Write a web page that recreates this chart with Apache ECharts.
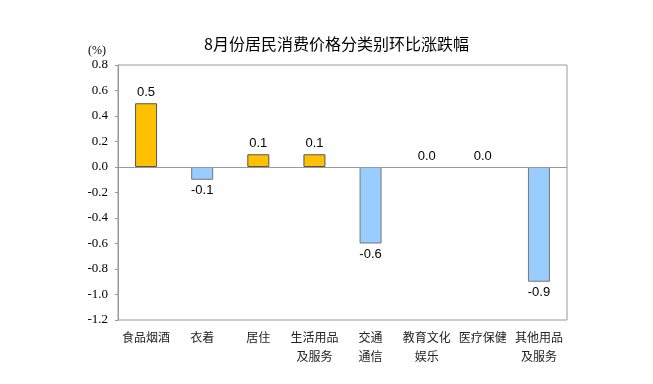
<!DOCTYPE html>
<html><head><meta charset="utf-8">
<script src="https://cdn.jsdelivr.net/npm/echarts@6/dist/echarts.min.js"></script>
<style>html,body{margin:0;padding:0;background:#fff}#c{width:653px;height:384px}</style>
</head><body><div id="c"></div>
<script>
const categories = ['食品烟酒','衣着','居住','生活用品\n及服务','交通\n通信','教育文化\n娱乐','医疗保健','其他用品\n及服务'];
const values = [0.5, -0.1, 0.1, 0.1, -0.6, 0.0, 0.0, -0.9];
const yTicks = {min: -1.2, max: 0.8, interval: 0.2};
const titleText = '8月份居民消费价格分类别环比涨跌幅';
const unitText = '(%)';

const serif = '"Liberation Serif", "Times New Roman", serif';
const chart = echarts.init(document.getElementById('c'));
chart.setOption({
  animation: false,
  title: {text: titleText, left: 199, top: 31, textStyle: {fontFamily: 'Noto Sans CJK SC', fontSize: 16, fontWeight: 'normal', color: '#000'}},
  graphic: [{type: 'text', left: 88, top: 45, style: {text: unitText, fontFamily: serif, fontSize: 12, fill: '#000'}}],
  grid: {left: 118, right: 86, top: 65, bottom: 64, show: true, borderColor: '#999', borderWidth: 1},
  xAxis: {
    type: 'category', data: categories,
    axisLine: {show: false}, axisTick: {show: false},
    axisLabel: {interval: 0, margin: 8, fontFamily: 'Noto Sans CJK SC', fontSize: 12, color: '#222', lineHeight: 19}
  },
  yAxis: {
    type: 'value', min: yTicks.min, max: yTicks.max, interval: yTicks.interval,
    axisLine: {show: true, lineStyle: {color: '#999'}},
    axisTick: {show: true, length: 3, lineStyle: {color: '#999'}},
    splitLine: {show: false},
    axisLabel: {margin: 10, fontFamily: serif, fontSize: 13, color: '#000', formatter: v => v.toFixed(1)}
  },
  series: [{
    type: 'bar', barWidth: 22,
    data: values.map(v => ({
      value: v,
      itemStyle: v > 0 ? {color: '#FFC000', borderColor: '#555', borderWidth: 1}
        : v < 0 ? {color: '#99CCFF', borderColor: '#777', borderWidth: 1}
        : {color: 'rgba(0,0,0,0)', borderWidth: 0},
      label: {position: v < 0 ? 'bottom' : 'top'}
    })),
    label: {show: true, distance: 4, fontFamily: 'Liberation Sans', fontSize: 13, color: '#000', formatter: p => p.value.toFixed(1)},
    markLine: {silent: true, symbol: 'none', label: {show: false}, lineStyle: {color: '#999', type: 'solid', width: 1}, data: [{yAxis: 0}]}
  }]
});
</script></body></html>
